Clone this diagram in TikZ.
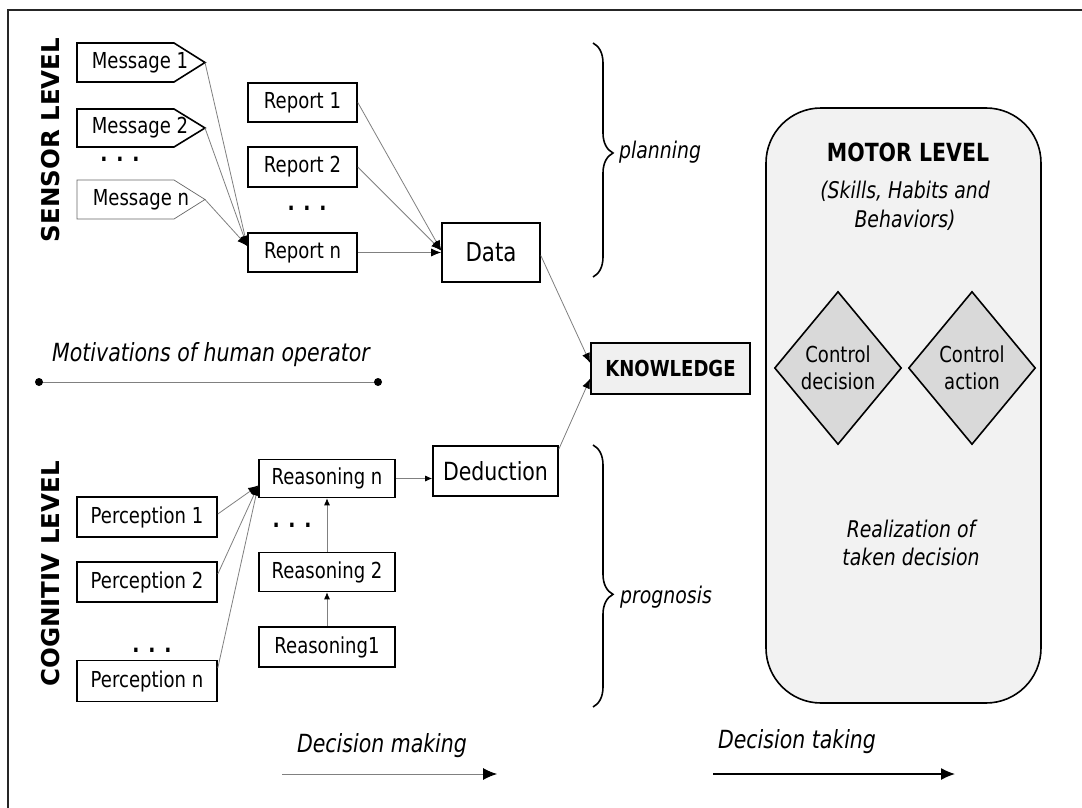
\documentclass[tikz,border=0pt]{standalone}
\usepackage{fontspec}
\setmainfont{DejaVu Sans}[FakeStretch=0.82]
\newfontfamily\wideff{DejaVu Sans}
\usetikzlibrary{arrows.meta,shapes.geometric,decorations.pathreplacing}
\definecolor{conngray}{HTML}{808080}
\definecolor{knowfill}{HTML}{F0F0F0}
\definecolor{motorfill}{HTML}{F2F2F2}
\definecolor{diafill}{HTML}{D9D9D9}
\newcommand{\fsz}[2]{\fontsize{#1}{#2}\selectfont}
\begin{document}
\begin{tikzpicture}[x=1pt,y=-1pt,
  box/.style={draw, line width=1.6pt, inner sep=0pt, font=\fsz{22}{26}},
  msgline/.style={line width=1.6pt, line join=miter},
  msgthin/.style={line width=0.7pt, draw=black!60},
  txt/.style={inner sep=0pt, font=\fsz{22}{26}},
  ital/.style={inner sep=0pt, font=\fsz{23}{28.5}\itshape, align=center},
  dotsty/.style={inner sep=0pt, font=\fsz{23}{26}\bfseries, anchor=base},
  connarrow/.style={draw=conngray, line width=0.8pt, -{Latex[length=10pt,width=8pt,color=black]}},
  smallarrow/.style={draw=conngray, line width=0.8pt, -{Latex[length=7pt,width=6pt,color=black]}},
  bigarrow/.style={line width=1.2pt, -{Latex[length=14pt,width=12pt,color=black]}},
  bracesty/.style={line width=1.6pt, decorate},
  diam/.style={diamond, draw, fill=diafill, line width=1.6pt, minimum width=127pt, minimum height=153pt, inner sep=0pt, aspect=0.83, align=center, font=\fsz{22}{27}}
]
\useasboundingbox (0,0) rectangle (1082,808);
\fill[white] (0,0) rectangle (1082,808);
% frame
\draw[line width=1.2pt, draw=black!85] (8,808) -- (8,10) -- (1082,10);

% level labels
\node[rotate=90, inner sep=0pt, font=\wideff\fsz{24.5}{28}\bfseries] (sensor) at (51,140) {SENSOR LEVEL};
\node[rotate=90, inner sep=0pt, font=\wideff\fsz{24.5}{28}\bfseries] (cognitiv) at (51,574) {COGNITIV LEVEL};

% messages
\draw[msgline] (77,43) -- (174,43) -- (205,62.5) coordinate (m1tip) -- (174,82) -- (77,82) -- cycle;
\node[txt] (m1) at (140,62.5) {Message 1};
\draw[msgline] (77,109) -- (174,109) -- (205,128) coordinate (m2tip) -- (174,147) -- (77,147) -- cycle;
\node[txt] (m2) at (140,128) {Message 2};
\node[dotsty] (mdots) at (120,161) {. . .};
\draw[msgthin] (77,180) -- (174,180) -- (205,199.5) coordinate (mntip) -- (174,219) -- (77,219) -- cycle;
\node[txt] (mn) at (141,199.5) {Message n};

% reports
\node[box, minimum width=109pt, minimum height=39pt] (r1) at (302.5,102.5) {Report 1};
\node[box, minimum width=109pt, minimum height=40pt] (r2) at (302.5,167) {Report 2};
\node[dotsty] (rdots) at (307,210) {. . .};
\node[box, minimum width=109pt, minimum height=39pt] (rn) at (302.5,252.5) {Report n};

\node[box, minimum width=98pt, minimum height=59pt, font=\fsz{26}{30}] (data) at (491,252.5) {Data};

\draw[connarrow] (m1tip) -- ([yshift=6.5pt]rn.west);
\draw[connarrow] (m2tip) -- ([yshift=6.5pt]rn.west);
\draw[connarrow] (mntip) -- ([yshift=6.5pt]rn.west);

\draw[connarrow] (r1.east) -- ([yshift=2pt]data.west);
\draw[connarrow] (r2.east) -- ([yshift=2pt]data.west);
\draw[connarrow] (rn.east) -- (data.west);

% knowledge
\node[box, fill=knowfill, minimum width=159pt, minimum height=51pt, font=\fsz{22}{26}\bfseries] (know) at (670.5,368.5) {KNOWLEDGE};
\draw[connarrow] ([yshift=-3pt]data.east) -- ([yshift=5.5pt]know.west);

% braces
\draw[bracesty, decoration={brace, amplitude=20pt, aspect=0.47}] (593,43) -- (593,277);
\node[ital, anchor=west] (planning) at (619,152) {planning};
\draw[bracesty, decoration={brace, amplitude=20pt, aspect=0.57}] (593,445) -- (593,707);
\node[ital, anchor=west] (prognosis) at (620,597) {prognosis};

% motivations
\node[inner sep=0pt, font=\fsz{25}{30}\itshape] (motiv) at (211,355) {Motivations of human operator};
\coordinate (ma) at (39,382);
\coordinate (mb) at (378,382);
\draw[draw=conngray, line width=0.9pt] (ma) -- (mb);
\fill (ma) circle (4pt);
\fill (mb) circle (4pt);

% perceptions
\node[box, minimum width=140pt, minimum height=40pt] (p1) at (147,517) {Perception 1};
\node[box, minimum width=140pt, minimum height=40pt] (p2) at (147,582) {Perception 2};
\node[dotsty] (pdots) at (152,652) {. . .};
\node[box, minimum width=140pt, minimum height=41pt] (pn) at (147,681) {Perception n};

% reasoning
\node[box, minimum width=136pt, minimum height=38pt] (rsn) at (327,478.5) {Reasoning n};
\node[dotsty] (rsdots) at (292,527) {. . .};
\node[box, minimum width=136pt, minimum height=39pt] (rs2) at (327,572) {Reasoning 2};
\node[box, minimum width=136pt, minimum height=40pt] (rs1) at (327,647) {Reasoning1};

\node[box, minimum width=125pt, minimum height=50pt, font=\fsz{25}{30}] (ded) at (495.5,471) {Deduction};

\draw[connarrow] ([yshift=3pt]p1.east) -- ([yshift=-7pt]rsn.west);
\draw[connarrow] ([yshift=8pt]p2.east) -- ([yshift=-7pt]rsn.west);
\draw[connarrow] ([yshift=13pt]pn.east) -- ([yshift=-7pt]rsn.west);

\draw[smallarrow] (rs1.north) -- (rs2.south);
\draw[smallarrow] (rs2.north) -- (rsn.south);
\draw[smallarrow] (rsn.east) -- (rsn.east -| ded.west);

\draw[connarrow] ([yshift=-4pt]ded.north east) -- ([yshift=-10pt]know.west);

% motor level
\node[draw, line width=1.6pt, fill=motorfill, rounded corners=55pt, minimum width=275pt, minimum height=595pt] (motor) at (903.5,405.5) {};
\node[inner sep=0pt, font=\fsz{25}{30}\bfseries] (motortitle) at (908,152) {MOTOR LEVEL};
\node[ital] (skills) at (905,206) {(Skills, Habits and\\Behaviors)};
\node[diam] (cd) at (838,368) {Control\\decision};
\node[diam] (ca) at (972,368) {Control\\action};
\node[ital] (realiz) at (911,543) {Realization of\\taken decision};

% bottom arrows
\node[inner sep=0pt, font=\fsz{25}{30}\itshape] (dmake) at (382,746) {Decision making};
\coordinate (dm1) at (282,774);
\coordinate (dm2) at (497,774);
\draw[bigarrow, draw=conngray, line width=0.9pt] (dm1) -- (dm2);
\node[inner sep=0pt, font=\fsz{25}{30}\itshape] (dtake) at (797,742) {Decision taking};
\coordinate (dt1) at (713,774);
\coordinate (dt2) at (955,774);
\draw[bigarrow] (dt1) -- (dt2);
\end{tikzpicture}
\end{document}
